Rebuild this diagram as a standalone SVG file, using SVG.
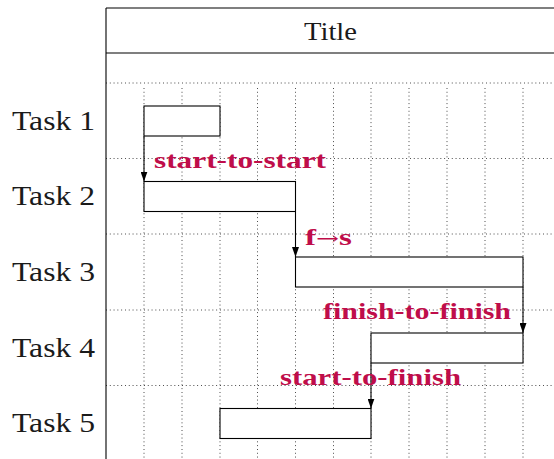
<svg xmlns="http://www.w3.org/2000/svg" width="554" height="459" viewBox="0 0 554 459">
<defs>
<style>
.frame{stroke:#000;stroke-width:1.1;fill:none}
.grid{stroke:#222;stroke-width:0.9;stroke-dasharray:0.9 2.9;fill:none}
.bar{fill:#fff;stroke:#000;stroke-width:1.1}
.task{font-family:"Liberation Serif","Times New Roman",serif;font-size:27px;fill:#1a1a1a}
.title{font-family:"Liberation Serif","Times New Roman",serif;font-size:26px;fill:#1a1a1a}
.lbl{font-family:"Liberation Serif","Times New Roman",serif;font-size:24px;font-weight:bold;fill:#bf0d4a}
.conn{stroke:#000;stroke-width:1.1;fill:none;marker-end:url(#arr)}
</style>
<marker id="arr" viewBox="0 0 10 7" refX="10" refY="3.5" markerUnits="userSpaceOnUse" markerWidth="10" markerHeight="7" orient="auto">
<path d="M0,0 L10,3.5 L0,7 Z" fill="#000"/>
</marker>
</defs>
<rect width="554" height="459" fill="#fff"/>
<g id="grid">
<line class="grid" x1="106" y1="83" x2="554" y2="83"/>
<line class="grid" x1="106" y1="158.5" x2="554" y2="158.5"/>
<line class="grid" x1="106" y1="234" x2="554" y2="234"/>
<line class="grid" x1="106" y1="310" x2="554" y2="310"/>
<line class="grid" x1="106" y1="385.5" x2="554" y2="385.5"/>
<line class="grid" x1="144" y1="88" x2="144" y2="459"/>
<line class="grid" x1="182" y1="88" x2="182" y2="459"/>
<line class="grid" x1="220" y1="88" x2="220" y2="459"/>
<line class="grid" x1="257.5" y1="88" x2="257.5" y2="459"/>
<line class="grid" x1="295.5" y1="88" x2="295.5" y2="459"/>
<line class="grid" x1="333.5" y1="88" x2="333.5" y2="459"/>
<line class="grid" x1="371" y1="88" x2="371" y2="459"/>
<line class="grid" x1="409" y1="88" x2="409" y2="459"/>
<line class="grid" x1="447" y1="88" x2="447" y2="459"/>
<line class="grid" x1="485" y1="88" x2="485" y2="459"/>
<line class="grid" x1="523" y1="88" x2="523" y2="459"/>
</g>
<g id="frame">
<line class="frame" x1="106" y1="8" x2="554" y2="8"/>
<line class="frame" x1="106" y1="53" x2="554" y2="53"/>
<line class="frame" x1="106" y1="8" x2="106" y2="459"/>
<text class="title" x="304" y="40" textLength="53" lengthAdjust="spacingAndGlyphs">Title</text>
</g>
<g id="task1"><text class="task" x="12" y="130" textLength="83" lengthAdjust="spacingAndGlyphs">Task 1</text><rect class="bar" x="144" y="106" width="76" height="30"/></g>
<g id="task2"><text class="task" x="12" y="205" textLength="83" lengthAdjust="spacingAndGlyphs">Task 2</text><rect class="bar" x="144" y="181.5" width="151.5" height="30"/></g>
<g id="task3"><text class="task" x="12" y="281" textLength="83" lengthAdjust="spacingAndGlyphs">Task 3</text><rect class="bar" x="295.5" y="257" width="227.5" height="30"/></g>
<g id="task4"><text class="task" x="12" y="357" textLength="83" lengthAdjust="spacingAndGlyphs">Task 4</text><rect class="bar" x="371" y="333" width="152" height="30"/></g>
<g id="task5"><text class="task" x="12" y="432" textLength="83" lengthAdjust="spacingAndGlyphs">Task 5</text><rect class="bar" x="220" y="408.5" width="151" height="30"/></g>
<g id="connectors">
<line class="conn" x1="144" y1="136" x2="144" y2="181.5"/>
<line class="conn" x1="295.5" y1="211.5" x2="295.5" y2="257"/>
<line class="conn" x1="523" y1="287" x2="523" y2="333"/>
<line class="conn" x1="371" y1="363" x2="371" y2="408.5"/>
<text class="lbl" x="154" y="168" textLength="172" lengthAdjust="spacingAndGlyphs">start-to-start</text>
<text class="lbl" x="305" y="245" textLength="47" lengthAdjust="spacingAndGlyphs">f<tspan font-family="DejaVu Serif, serif" font-weight="normal" font-size="20">→</tspan>s</text>
<text class="lbl" x="323" y="319" textLength="188" lengthAdjust="spacingAndGlyphs">finish-to-finish</text>
<text class="lbl" x="280" y="385" textLength="181" lengthAdjust="spacingAndGlyphs">start-to-finish</text>
</g>
</svg>
